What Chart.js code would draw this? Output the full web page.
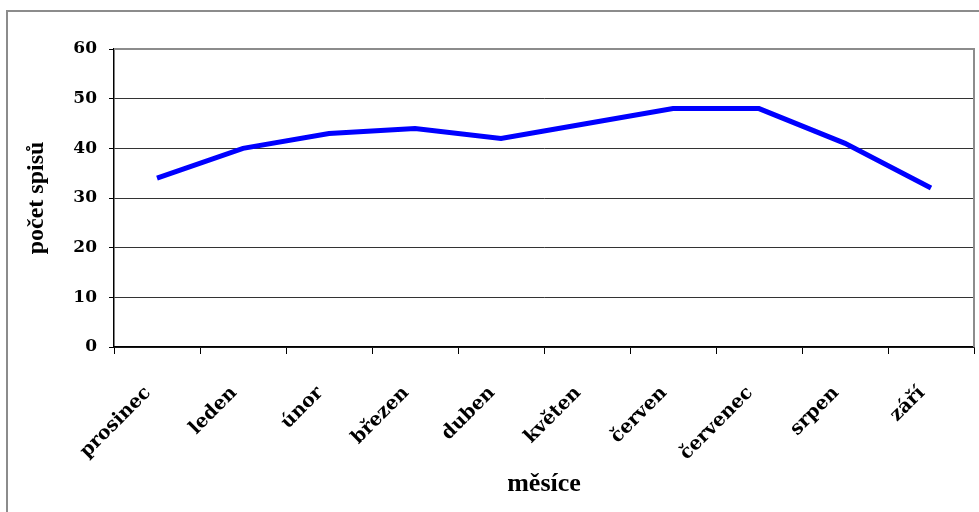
<!DOCTYPE html>
<html>
<head>
<meta charset="utf-8">
<script src="https://cdn.jsdelivr.net/npm/chart.js@4/dist/chart.umd.min.js"></script>
<style>
  html, body { margin: 0; padding: 0; background: #ffffff; }
  #wrap { width: 979px; height: 512px; }
</style>
</head>
<body>
<div id="wrap"><canvas id="c" width="979" height="512"></canvas></div>
<script>
// Počet spisů podle měsíců
const months = ['prosinec', 'leden', 'únor', 'březen', 'duben', 'květen', 'červen', 'červenec', 'srpen', 'září'];
const caseCounts = [34, 40, 43, 44, 42, 45, 48, 48, 41, 32];
const yTicks = [0, 10, 20, 30, 40, 50, 60];

// Grey frame round the whole chart and the top/right edges of the plot area
const framePlugin = {
  id: 'frame',
  beforeDraw(chart) {
    const ctx = chart.ctx;
    ctx.save();
    ctx.fillStyle = '#ffffff';
    ctx.fillRect(0, 0, chart.width, chart.height);
    ctx.strokeStyle = '#8c8c8c';
    ctx.lineWidth = 2;
    ctx.strokeRect(7, 11, chart.width + 20, chart.height + 20);
    ctx.restore();
  },
  beforeDatasetsDraw(chart) {
    const { ctx, chartArea } = chart;
    ctx.save();
    ctx.strokeStyle = '#8c8c8c';
    ctx.lineWidth = 2;
    ctx.beginPath();
    ctx.moveTo(chartArea.left, chartArea.top);
    ctx.lineTo(chartArea.right, chartArea.top);
    ctx.lineTo(chartArea.right, chartArea.bottom);
    ctx.stroke();
    ctx.restore();
  }
};

new Chart(document.getElementById('c'), {
  type: 'line',
  data: {
    labels: months,
    datasets: [{
      data: caseCounts,
      borderColor: '#0000ff',
      borderWidth: 5,
      pointRadius: 0,
      tension: 0,
      fill: false
    }]
  },
  options: {
    responsive: false,
    animation: false,
    events: [],
    layout: { padding: { left: 10, top: 49, right: 5, bottom: 0 } },
    plugins: { legend: { display: false }, tooltip: { enabled: false } },
    scales: {
      x: {
        offset: true,
        grid: {
          offset: true,
          drawOnChartArea: false,
          drawTicks: true,
          tickLength: 7,
          tickColor: '#000000',
          lineWidth: 1
        },
        border: { color: '#000000', width: 1.5 },
        ticks: {
          autoSkip: false,
          minRotation: 45,
          maxRotation: 45,
          padding: 28,
          labelOffset: -9,
          color: '#000000',
          font: { family: '"DejaVu Serif"', weight: 'bold', size: 19 }
        },
        title: {
          display: true,
          text: 'měsíce',
          color: '#000000',
          font: { family: '"Liberation Serif"', weight: 'bold', size: 26 },
          padding: { top: 0, bottom: 12 }
        },
        afterFit(scale) { scale.height = 165; }
      },
      y: {
        min: 0,
        max: 60,
        afterBuildTicks(scale) { scale.ticks = yTicks.map(v => ({ value: v })); },
        grid: {
          color: ctx => (ctx.tick && ctx.tick.value === 60) ? '#8c8c8c' : '#333333',
          lineWidth: 1,
          drawTicks: true,
          tickLength: 5,
          tickColor: '#000000'
        },
        border: { color: '#000000', width: 1.5 },
        ticks: {
          padding: 12,
          color: '#000000',
          font: { family: '"DejaVu Serif"', weight: 'bold', size: 17 }
        },
        title: {
          display: true,
          text: 'počet spisů',
          color: '#000000',
          font: { family: '"Liberation Serif"', weight: 'bold', size: 24 },
          padding: { top: 12, bottom: 0 }
        },
        afterFit(scale) { scale.width = 104; }
      }
    }
  },
  plugins: [framePlugin]
});
</script>
</body>
</html>
